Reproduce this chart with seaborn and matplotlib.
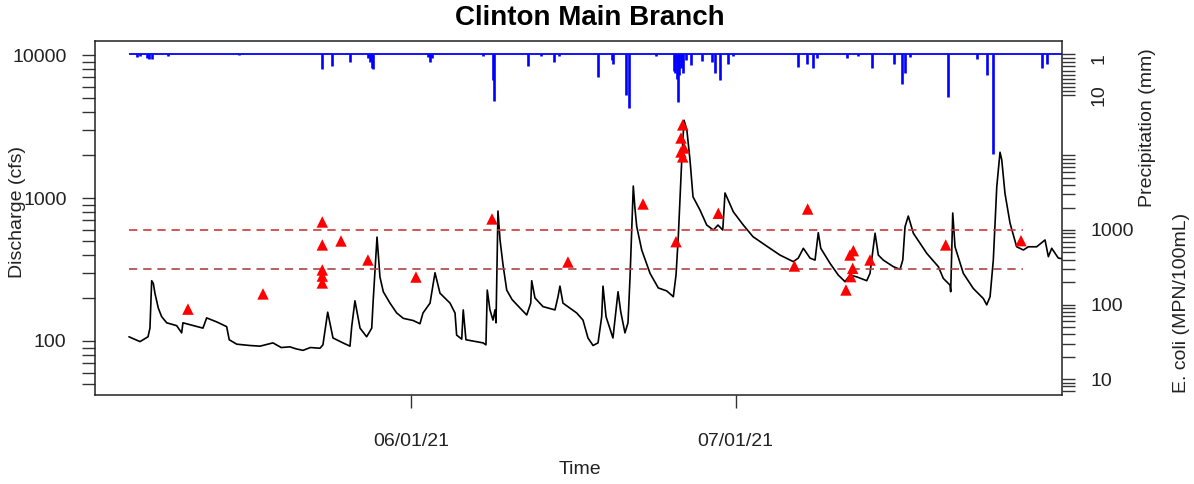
import numpy as np
import pandas as pd
import matplotlib
matplotlib.use("Agg")
import matplotlib.pyplot as plt
import matplotlib.dates as mdates
from matplotlib.ticker import FixedLocator, FixedFormatter, NullLocator
import seaborn as sns

# ---------------------------------------------------------------------------
# Data (time axis in days since 2021-05-01)
# ---------------------------------------------------------------------------
flow_day = [4.93, 5.95, 6.69, 6.87, 7.03, 7.18, 7.33, 7.64, 7.95, 8.42,
            9.34, 9.80, 9.92, 11.77, 12.11, 13.04, 13.96, 14.20, 14.89, 16.10,
            17.04, 18.24, 19.00, 19.81, 20.40, 21.02, 21.70, 22.59, 22.86, 23.30,
            23.79, 24.71, 25.36, 25.52, 25.82, 26.29, 26.90, 27.37, 27.51, 27.86,
            28.13, 28.44, 29.06, 29.68, 30.29, 31.21, 31.83, 32.11, 32.76, 33.22,
            33.68, 34.61, 35.07, 35.22, 35.69, 35.83, 36.08, 37.66, 37.93, 38.05,
            38.30, 38.58, 38.77, 38.86, 39.04, 39.23, 39.51, 39.85, 40.34, 41.08,
            41.70, 42.07, 42.16, 42.46, 43.20, 44.31, 44.59, 44.77, 45.05, 46.32,
            46.90, 47.36, 47.83, 48.29, 48.63, 48.75, 49.03, 49.67, 49.95, 50.14,
            50.39, 50.78, 51.06, 51.25, 51.55, 51.70, 51.87, 52.33, 53.10, 53.86,
            54.64, 55.25, 55.50, 55.71, 56.03, 56.24, 56.50, 56.79, 57.07, 57.72,
            58.34, 58.95, 59.38, 59.82, 60.03, 60.80, 61.72, 62.62, 63.88, 65.11,
            66.34, 66.80, 67.27, 67.89, 68.35, 68.65, 68.88, 69.74, 70.50, 71.12,
            71.58, 72.20, 73.13, 73.43, 73.90, 74.20, 74.66, 75.59, 76.21, 76.46,
            76.67, 76.97, 77.44, 78.68, 79.75, 80.21, 80.83, 80.89, 81.08, 81.29,
            82.06, 82.98, 83.91, 84.22, 84.53, 84.83, 85.15, 85.45, 85.61, 85.91,
            86.38, 86.99, 87.61, 88.07, 88.84, 89.61, 89.92, 90.23, 90.84, 91.30]
flow_cfs = [107, 99, 107, 123, 264, 253, 216, 170, 148, 134,
            128, 114, 134, 123, 145, 136, 126, 102, 95, 93,
            92, 97, 90, 91, 88, 86, 90, 89, 94, 159,
            105, 97, 92, 126, 191, 123, 107, 123, 194, 533,
            281, 221, 184, 157, 144, 139, 132, 157, 184, 300,
            216, 184, 157, 110, 103, 165, 102, 97, 94, 227,
            165, 140, 165, 134, 811, 510, 340, 227, 195, 170,
            152, 184, 264, 200, 174, 165, 204, 242, 184, 157,
            140, 105, 93, 97, 148, 242, 148, 105, 165, 221,
            160, 114, 134, 281, 1213, 850, 630, 433, 297, 235,
            224, 204, 289, 536, 1850, 3500, 3000, 1850, 1020, 823,
            647, 597, 647, 597, 1085, 800, 647, 536, 461, 399,
            359, 380, 445, 380, 368, 572, 445, 349, 289, 260,
            289, 281, 264, 297, 567, 399, 368, 331, 317, 368,
            630, 748, 567, 410, 331, 274, 246, 221, 786, 456,
            297, 233, 198, 179, 204, 368, 1200, 2090, 1850, 1075,
            665, 456, 433, 456, 456, 509, 389, 445, 380, 375]

ecoli_day = [10.38, 17.32, 22.80, 22.80, 22.80, 22.80, 22.80, 24.53, 27.02, 31.46,
             38.49, 45.51, 52.45, 55.50, 56.12, 55.96, 56.24, 55.96, 56.12, 59.41,
             66.44, 67.67, 71.21, 71.65, 71.83, 71.58, 71.89, 73.43, 80.43, 87.39]
ecoli_mpn = [87, 139, 1280, 630, 291, 241, 195, 712, 396, 234,
             1405, 372, 2230, 697, 25600, 17100, 12560, 11100, 9530, 1675,
             329, 1910, 157, 237, 306, 462, 528, 396, 630, 719]

rain_day = [5.64, 5.95, 6.57, 6.78, 7.03, 8.56, 15.13, 22.74, 23.72, 25.36,
            27.02, 27.21, 27.39, 27.53, 32.57, 32.76, 32.94, 37.63, 38.61, 38.67,
            41.79, 43.02, 44.25, 44.71, 48.32, 49.55, 49.70, 50.88, 51.18, 53.65,
            55.27, 55.41, 55.55, 55.66, 55.82, 55.96, 56.17, 56.42, 56.86, 57.87,
            58.80, 59.10, 59.57, 60.33, 60.80, 66.81, 67.58, 68.19, 68.51, 71.28,
            72.35, 73.59, 75.65, 76.36, 76.67, 77.13, 80.67, 83.30, 84.22, 84.83,
            89.31, 89.77]
rain_mm = [0.6, 0.4, 1.0, 1.3, 1.2, 0.5, 0.3, 3.7, 2.9, 2.0,
           1.0, 2.0, 3.4, 3.7, 0.8, 2.0, 1.0, 0.4, 6.3, 11.4,
           2.9, 0.5, 2.0, 0.5, 5.5, 1.5, 2.5, 10.0, 13.2, 0.5,
           4.0, 4.5, 6.0, 11.6, 5.0, 3.5, 4.6, 1.5, 2.7, 1.6,
           2.0, 4.5, 6.2, 2.3, 0.5, 3.1, 2.4, 3.5, 1.0, 1.0,
           0.5, 3.5, 2.3, 7.2, 4.7, 0.8, 10.4, 1.3, 5.1, 24.4,
           3.3, 2.4]

ecoli_limits = [1000, 300]
limit_colors = ["#D03A3A", "#A84545"]
date_ticks = ["2021-06-01", "2021-07-01"]
rain_ticks = list(range(0, 11))
rain_labels = ["" if v not in (1, 10) else str(v) for v in rain_ticks]

origin = pd.Timestamp("2021-05-01")


def to_time(days):
    return origin + pd.to_timedelta(np.asarray(days, dtype=float), unit="D")


flow = pd.DataFrame({"time": to_time(flow_day), "cfs": flow_cfs})
ecoli = pd.DataFrame({"time": to_time(ecoli_day), "mpn": ecoli_mpn})
rain = pd.DataFrame({"time": to_time(rain_day), "mm": rain_mm})


def log_ticks(lo, hi):
    vals = []
    for e in range(0, 7):
        for m in range(1, 10):
            v = m * 10 ** e
            if lo <= v <= hi:
                vals.append(v)
    return vals


# ---------------------------------------------------------------------------
# Figure
# ---------------------------------------------------------------------------
sns.set_theme(style="white")
plt.rcParams["font.family"] = ["Liberation Sans", "DejaVu Sans"]
plt.rcParams["axes.linewidth"] = 1.1

W, H = 1194, 484
fig = plt.figure(figsize=(W / 100, H / 100), dpi=100)
fig.patch.set_facecolor("white")

L, R, T, B = 95, 1062, 41, 395
ax = fig.add_axes([L / W, 1 - B / H, (R - L) / W, (B - T) / H])

tick_kw = dict(direction="out", length=9.5, width=1.0, color="#333333",
               labelsize=14, labelcolor="#222222", pad=11)

# discharge
sns.lineplot(data=flow, x="time", y="cfs", ax=ax, color="black",
             linewidth=1.2, estimator=None, sort=False)
ax.set_yscale("log")
ax.set_ylim(41.9, 12540)
xmin, xmax = to_time([1.79, 91.18])
ax.set_xlim(xmin, xmax)
flow_tick_vals = log_ticks(41.9, 12540)
ax.yaxis.set_major_locator(FixedLocator(flow_tick_vals))
ax.yaxis.set_major_formatter(FixedFormatter(
    [str(v) if v in (100, 1000, 10000) else "" for v in flow_tick_vals]))
ax.yaxis.set_minor_locator(NullLocator())
ax.xaxis.set_major_locator(FixedLocator(mdates.date2num(pd.to_datetime(date_ticks))))
ax.xaxis.set_major_formatter(mdates.DateFormatter("%m/%d/%y"))
ax.xaxis.set_minor_locator(NullLocator())
ax.tick_params(axis="y", left=True, **tick_kw)
ax.tick_params(axis="x", bottom=True, **{**tick_kw, "pad": 18})
ax.set_xlabel("")
ax.set_ylabel("")
for s in ax.spines.values():
    s.set_color("#222222")
    s.set_linewidth(1.1)

# precipitation (inverted, hanging from the top)
ax_p = ax.twinx()
ax_p.plot([flow["time"].iloc[0], xmax], [0, 0], color="blue", linewidth=1.3,
          solid_capstyle="butt")
ax_p.vlines(rain["time"], 0, rain["mm"], color="blue", linewidth=1.9)
ax_p.set_ylim(83.2, -3.2)
ax_p.yaxis.set_major_locator(FixedLocator(rain_ticks))
ax_p.yaxis.set_major_formatter(FixedFormatter(rain_labels))
ax_p.yaxis.set_minor_locator(NullLocator())
ax_p.tick_params(axis="y", right=True, **tick_kw)
for lab in ax_p.get_yticklabels():
    lab.set_rotation(90)
    lab.set_va("center")
ax_p.set_ylabel("")
ax_p.set_xlim(xmin, xmax)
for s in ax_p.spines.values():
    s.set_visible(False)

# E. coli
ax_e = ax.twinx()
ax_e.set_yscale("log")
for lim, col in zip(ecoli_limits, limit_colors):
    ax_e.hlines(lim, flow["time"].iloc[0], to_time([ecoli_day[-1] + 0.2])[0],
                color=col, linewidth=1.2, linestyles=(0, (5, 3.5)))
sns.scatterplot(data=ecoli, x="time", y="mpn", ax=ax_e, marker="^",
                color="red", s=68, edgecolor="none", zorder=5)
ax_e.set_ylim(6.14, 341000)
ecoli_tick_vals = log_ticks(6.5, 10000)
ax_e.yaxis.set_major_locator(FixedLocator(ecoli_tick_vals))
ax_e.yaxis.set_major_formatter(FixedFormatter(
    [str(v) if v in (10, 100, 1000) else "" for v in ecoli_tick_vals]))
ax_e.yaxis.set_minor_locator(NullLocator())
ax_e.tick_params(axis="y", right=True, **tick_kw)
ax_e.set_ylabel("")
ax_e.set_xlabel("")
ax_e.set_xlim(xmin, xmax)
for s in ax_e.spines.values():
    s.set_visible(False)


def px(x, y):
    return x / W, 1 - y / H


fig.text(*px(590, 18), "Clinton Main Branch", ha="center", va="center",
         fontsize=20, fontweight="bold", color="black")
fig.text(*px(18, 212), "Discharge (cfs)", ha="center", va="center",
         rotation=90, fontsize=14, color="#222222")
fig.text(*px(1147, 128), "Precipitation (mm)", ha="center", va="center",
         rotation=90, fontsize=14, color="#222222")
fig.text(*px(1181, 303), "E. coli (MPN/100mL)", ha="center", va="center",
         rotation=90, fontsize=14, color="#222222")
fig.text(*px(580, 470), "Time", ha="center", va="center",
         fontsize=14, color="#222222")

fig.savefig("out.png", dpi=100, facecolor="white")
